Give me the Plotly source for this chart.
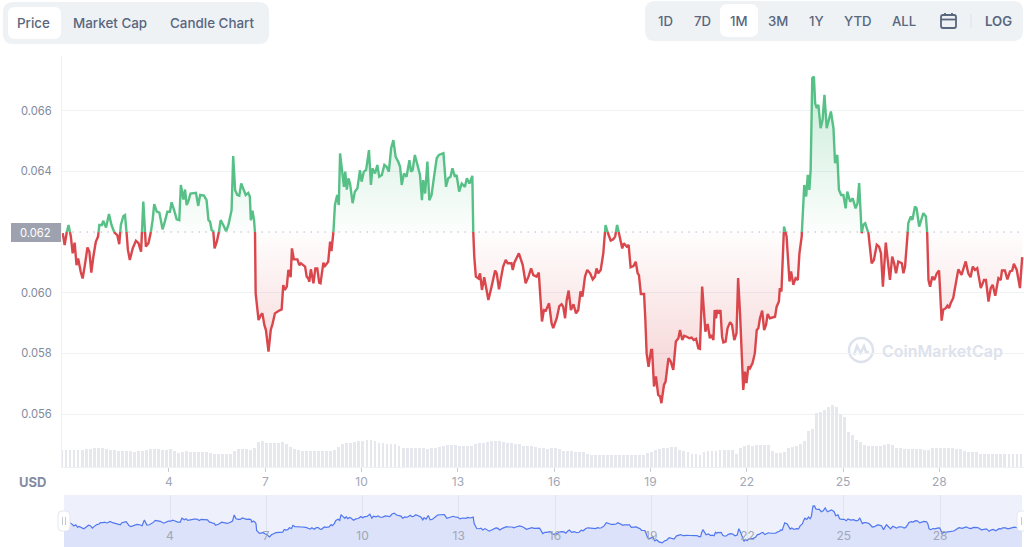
import plotly.graph_objects as go

W, H = 1024, 547
BASE = 62.0  # baseline, thousandths of USD

days = [0.69,0.75,0.81,0.87,0.94,1.00,1.06,1.12,1.17,1.25,1.31,1.38,1.46,1.52,1.58,1.64,1.72,1.79,1.83,1.91,1.95,2.04,2.13,2.21,2.30,2.39,2.45,2.50,2.58,2.63,2.68,2.72,2.78,2.87,2.97,3.05,3.13,3.20,3.28,3.36,3.43,3.49,3.54,3.62,3.70,3.80,3.87,3.95,4.03,4.08,4.16,4.24,4.32,4.37,4.45,4.50,4.55,4.60,4.67,4.76,4.84,4.91,4.97,5.09,5.17,5.23,5.28,5.33,5.38,5.42,5.49,5.54,5.61,5.69,5.78,5.85,5.95,6.00,6.06,6.13,6.19,6.25,6.32,6.39,6.47,6.52,6.55,6.60,6.65,6.68,6.70,6.75,6.79,6.86,6.91,6.97,7.02,7.10,7.17,7.23,7.30,7.41,7.51,7.56,7.61,7.67,7.72,7.79,7.83,7.89,8.00,8.06,8.11,8.24,8.29,8.34,8.37,8.42,8.50,8.56,8.62,8.68,8.72,8.81,8.86,8.96,9.02,9.06,9.12,9.17,9.24,9.29,9.33,9.41,9.45,9.49,9.54,9.59,9.64,
9.72,9.79,9.87,9.95,10.00,10.07,10.14,10.23,10.29,10.34,10.42,10.49,10.55,10.63,10.71,10.78,10.85,10.92,10.99,11.06,11.14,11.20,11.25,11.32,11.40,11.49,11.54,11.59,11.66,11.77,11.82,11.88,11.92,11.98,12.05,12.11,12.18,12.25,12.34,12.41,12.55,12.63,12.70,12.77,12.83,12.91,12.96,13.04,13.12,13.22,13.28,13.36,13.45,13.48,13.51,13.56,13.64,13.69,13.75,13.82,13.95,14.05,14.16,14.21,14.28,14.36,14.41,14.49,14.55,14.67,14.71,14.76,14.83,14.90,15.02,15.11,15.20,15.28,15.35,15.45,15.52,15.62,15.68,15.74,15.84,15.92,15.97,16.08,16.16,16.23,16.28,16.34,16.39,16.45,16.52,16.60,16.68,16.75,16.82,16.88,16.96,17.03,17.12,17.20,17.27,17.32,17.37,17.45,17.53,17.60,17.69,17.76,17.84,17.90,17.96,18.03,18.12,18.17,18.26,18.32,18.38,18.47,18.54,18.60,18.64,18.70,18.80,18.84,18.88,18.94,19.02,19.05,19.11,19.17,19.24,19.30,19.34,19.42,19.47,19.56,19.63,19.71,19.79,19.87,19.92,
19.99,20.05,20.13,20.21,20.28,20.35,20.42,20.49,20.54,20.57,20.61,20.67,20.71,20.78,20.85,20.90,20.96,21.00,21.04,21.08,21.12,21.18,21.23,21.27,21.34,21.40,21.48,21.54,21.61,21.68,21.73,21.79,21.84,21.89,21.94,21.99,22.05,22.10,22.18,22.25,22.31,22.36,22.41,22.48,22.54,22.60,22.65,22.72,22.88,22.93,23.00,23.03,23.08,23.12,23.16,23.24,23.33,23.38,23.45,23.52,23.59,23.64,23.71,23.76,23.79,23.85,23.90,23.95,23.99,24.04,24.09,24.13,24.18,24.23,24.30,24.36,24.42,24.49,24.56,24.62,24.70,24.75,24.82,24.87,24.94,25.01,25.08,25.13,25.22,25.30,25.39,25.45,25.50,25.55,25.58,25.63,25.69,25.79,25.89,25.96,26.05,26.12,26.18,26.24,26.33,26.38,26.46,26.53,26.59,26.65,26.72,26.83,26.88,26.93,27.00,27.03,27.11,27.16,27.24,27.29,27.37,27.43,27.50,27.58,27.62,27.66,27.71,27.78,27.84,27.92,27.99,28.07,28.12,28.20,28.25,28.30,28.35,28.43,28.49,28.59,28.69,28.82,28.90,28.97,29.04,29.11,29.18,29.29,29.39,29.45,29.53,29.60,29.66,29.74,29.84,29.91,29.95,30.04,30.12,30.20,30.27,30.32,30.41,30.51,30.58]

prices_milli = [61.96,61.57,61.96,62.23,61.87,61.30,61.65,60.91,61.13,60.69,60.47,60.91,61.49,61.35,60.66,61.16,61.68,61.85,62.23,62.23,62.37,62.15,62.59,62.23,61.98,61.90,61.60,62.23,62.53,62.56,61.96,61.41,61.08,61.46,61.71,61.63,61.35,63.00,61.52,61.63,61.96,62.39,62.92,62.67,62.64,62.09,62.34,62.67,62.67,62.98,62.72,62.42,62.39,63.55,63.07,63.40,62.89,63.00,63.27,63.27,63.29,62.86,63.22,63.20,63.05,62.39,62.34,62.06,62.03,61.46,61.68,61.90,62.39,62.23,62.03,62.23,62.72,64.50,63.38,63.22,63.20,63.60,63.40,63.22,63.29,63.16,62.39,62.70,62.39,61.96,59.98,59.54,59.10,59.26,59.32,58.94,58.77,58.06,58.77,58.99,59.32,59.40,59.45,60.25,60.09,60.20,60.75,60.51,61.46,61.10,61.10,60.91,60.97,60.86,60.53,60.47,60.36,60.77,60.31,60.80,60.80,60.33,60.31,60.99,60.88,61.02,61.68,61.37,61.96,62.89,63.22,62.89,64.59,63.71,63.49,63.99,63.40,63.77,63.60,
62.95,63.33,63.44,64.04,63.66,63.99,64.04,64.70,63.55,64.10,63.93,64.21,63.82,63.88,64.21,64.15,63.99,64.76,65.03,64.48,64.32,64.15,63.55,63.93,63.82,64.37,63.99,64.04,64.54,64.10,63.88,63.05,63.71,63.27,64.32,63.05,63.22,63.77,64.43,64.54,64.60,63.49,63.77,63.82,64.10,63.82,63.88,63.33,63.60,63.49,63.77,63.60,63.85,61.96,61.19,60.53,60.47,60.64,60.09,60.51,59.76,60.20,60.73,60.64,60.11,60.58,60.86,61.08,60.97,60.97,60.75,60.99,61.13,61.30,60.91,60.31,60.53,60.80,60.58,60.53,60.66,59.05,59.43,59.41,59.65,58.99,58.83,59.16,59.56,59.62,59.54,59.16,59.76,60.07,59.43,59.62,59.32,59.43,60.04,59.87,60.53,60.75,60.64,60.44,60.53,60.80,60.64,60.75,61.30,62.23,61.90,61.72,61.76,61.85,62.23,61.90,61.46,61.63,61.52,61.57,60.84,60.88,61.02,60.64,60.58,59.96,59.96,59.10,58.00,57.56,58.11,58.11,56.91,57.24,56.63,56.58,56.36,56.96,57.07,57.84,57.73,57.46,58.39,58.50,58.77,
58.44,58.58,58.55,58.50,58.52,58.44,58.48,58.17,58.15,59.32,60.20,59.32,58.72,58.97,58.50,58.61,58.44,59.43,59.16,59.43,59.32,59.43,58.55,58.36,58.39,58.83,59.03,58.94,58.44,58.66,60.48,59.32,57.68,56.80,57.40,57.02,57.57,57.51,57.68,58.00,58.77,58.83,59.16,59.41,58.77,58.94,59.30,59.16,59.21,59.54,59.71,60.15,60.04,61.08,62.18,61.85,60.37,60.70,60.26,60.48,60.42,61.30,61.85,63.06,63.55,63.17,63.88,63.39,64.05,67.07,67.12,66.24,66.08,66.19,65.42,65.69,66.52,65.42,65.75,65.97,65.42,64.27,64.54,63.39,63.22,63.22,62.78,63.33,63.00,63.11,62.78,62.95,63.61,62.29,61.96,62.24,62.29,61.96,60.97,61.08,61.58,61.52,61.30,60.20,61.65,61.19,60.42,61.19,60.97,60.64,61.03,60.97,60.64,60.86,61.74,62.29,62.51,62.40,62.84,62.78,62.18,62.40,62.62,62.51,61.96,60.42,60.20,60.53,60.42,60.64,60.73,59.08,59.44,59.49,59.57,59.49,59.65,59.82,60.20,60.77,60.59,61.03,60.64,60.51,60.86,60.75,60.81,60.15,60.42,60.42,59.71,60.15,60.26,59.90,60.48,60.42,60.73,60.73,60.44,60.70,60.73,60.95,60.75,60.15,61.17]

volume = [17.3,17.2,17,17,17.3,17.5,17.8,18.5,19,19,18.8,18,17,16.7,16.2,16,15.7,15.7,15.4,15.7,15.8,17.5,17.8,17.8,17.6,17.5,17.5,17.6,16,14.3,15.3,15.6,15.2,15,14.8,14.8,14.9,14.5,13.2,13,13,13.2,13,16.5,17.7,17.8,17.6,17.5,19,25,26,24.5,24.3,24.3,24.3,24.6,23,20,18.5,17,16,15.6,15.6,15.8,16.2,16,15.6,15.8,17.5,20,23,24,24.5,25,25.8,26.3,26.8,26.8,26,24.5,23.8,23.3,22.8,23,21,19,18.7,18.7,18.7,18.6,18.7,18.5,19,19.5,20,21.5,22,22,21.8,21.5,21.5,21.3,21.5,23.5,23.8,24.3,25.5,26,26,26.3,25,24,24,
23,23,21.5,21,21.5,20,19,19,18.5,18.7,19,18,16.5,16,15.7,15,14.7,15,13,12.3,12.5,12.2,12,12,12.3,12.3,12.5,12.3,12.5,12.5,12.2,12,11.8,14,15.5,17,18,19,19.5,20,20,17,16,15,13.5,13,12.5,15,15.8,16,16.5,17,17.2,17.5,17,13.5,19,21,22,21.5,21.7,22,22,22,16,14.5,14,15,19,20,21,23,26,36,38,54,55,57,60,62,60,53,50,35,32,27,25,22.5,21.5,21,21,21,22,23,22,19.5,19,18.5,18,18,18,17.7,17.5,17,19,19.5,19,19,18.8,18.7,18.5,18.5,16,15.5,15.5,15,13.5,13.5,13,13,13,13,13.2,13,13,12.8,13]
volume_start_day = 0.667

price_ticks = [56, 58, 60, 64, 66]
day_ticks = [4, 7, 10, 13, 16, 19, 22, 25, 28]
chart_tabs = ["Price", "Market Cap", "Candle Chart"]
range_tabs = ["1D", "7D", "1M", "3M", "1Y", "YTD", "ALL"]

GREEN, RED = "#57c086", "#d9474c"
INK, TICK, XTICK = "#58667e", "#808a9d", "#a1a7b6"
GRID, PANEL = "#eff2f5", "#eff2f5"
FONT = "Inter"


def px(x):
    return x / W


def py(y):
    return 1 - y / H


def round_rect(x0, y0, x1, y1, r):
    pts = [
        f"M {px(x0 + r)},{py(y0)}", f"L {px(x1 - r)},{py(y0)}", f"Q {px(x1)},{py(y0)} {px(x1)},{py(y0 + r)}",
        f"L {px(x1)},{py(y1 - r)}", f"Q {px(x1)},{py(y1)} {px(x1 - r)},{py(y1)}",
        f"L {px(x0 + r)},{py(y1)}", f"Q {px(x0)},{py(y1)} {px(x0)},{py(y1 - r)}",
        f"L {px(x0)},{py(y0 + r)}", f"Q {px(x0)},{py(y0)} {px(x0 + r)},{py(y0)}", "Z",
    ]
    return " ".join(pts)


def paper_shape(path, fill="rgba(0,0,0,0)", line=None, width=0, layer="below"):
    return dict(type="path", xref="paper", yref="paper", path=path, fillcolor=fill, layer=layer,
                line=dict(color=line or "rgba(0,0,0,0)", width=width))


def polyline(points):
    return "M " + " L ".join(f"{px(a)},{py(b)}" for a, b in points)


# split the series where it crosses the baseline
xs, ys = [], []
for i, (d, p) in enumerate(zip(days, prices_milli)):
    if i and (ys[-1] - BASE) * (p - BASE) < 0:
        t = (BASE - ys[-1]) / (p - ys[-1])
        xs.append(xs[-1] + t * (d - xs[-1]))
        ys.append(BASE)
    xs.append(d)
    ys.append(p)

up_line = [y if y >= BASE else None for y in ys]
dn_line = [y if y <= BASE else None for y in ys]
up_fill = [max(y, BASE) for y in ys]
dn_fill = [min(y, BASE) for y in ys]
base_line = [BASE] * len(xs)

fig = go.Figure()
vol_x = [volume_start_day + i / 8 for i in range(len(volume))]
fig.add_bar(x=vol_x, y=volume, width=0.09, marker=dict(color="#e6e8ee", line_width=0), yaxis="y2", xaxis="x")

hide = dict(mode="lines", line=dict(width=0), hoverinfo="skip", xaxis="x", yaxis="y")
fig.add_scatter(x=xs, y=base_line, **hide)
fig.add_scatter(x=xs, y=up_fill, fill="tonexty", fillgradient=dict(
    type="vertical", start=BASE, stop=67.1,
    colorscale=[[0, "rgba(87,192,134,0.02)"], [1, "rgba(87,192,134,0.32)"]]), **hide)
fig.add_scatter(x=xs, y=base_line, **hide)
fig.add_scatter(x=xs, y=dn_fill, fill="tonexty", fillgradient=dict(
    type="vertical", start=56.3, stop=BASE,
    colorscale=[[0, "rgba(217,71,76,0.27)"], [1, "rgba(217,71,76,0.01)"]]), **hide)
fig.add_scatter(x=[xs[0] - 1, xs[-1] + 1], y=[BASE, BASE], mode="lines", xaxis="x", yaxis="y",
                line=dict(color="#8f95a5", width=1, dash="1px,6px"))
fig.add_scatter(x=xs, y=up_line, mode="lines", line=dict(color=GREEN, width=2.4), xaxis="x", yaxis="y")
fig.add_scatter(x=xs, y=dn_line, mode="lines", line=dict(color=RED, width=2.4), xaxis="x", yaxis="y")

# navigator
fig.add_scatter(x=days, y=prices_milli, mode="lines", line=dict(color="#5076f0", width=1.2),
                fill="tozeroy", fillcolor="#dbe2f9", xaxis="x2", yaxis="y3")
fig.add_scatter(x=day_ticks, y=[58.06] * len(day_ticks), mode="text", text=[str(d) for d in day_ticks],
                textfont=dict(family=FONT, size=12, color="#a1a7b6"), xaxis="x2", yaxis="y3")

shapes = [
    paper_shape(round_rect(3, 2, 269, 44, 10), PANEL),
    paper_shape(round_rect(8, 7, 61, 39, 7), "#ffffff"),
    paper_shape(round_rect(645, 1, 1023, 41, 10), PANEL),
    paper_shape(round_rect(720, 4, 758, 37, 8), "#ffffff"),
    paper_shape(polyline([(971, 14), (971, 28)]), line="#dde1e8", width=1),
    # calendar icon
    paper_shape(round_rect(941, 15, 956, 28, 2), line=INK, width=1.8),
    paper_shape(polyline([(941, 19.5), (956, 19.5)]), line=INK, width=1.8),
    paper_shape(polyline([(945, 13), (945, 16)]), line=INK, width=1.8),
    paper_shape(polyline([(952, 13), (952, 16)]), line=INK, width=1.8),
    # price-tag behind 0.062
    paper_shape(round_rect(11, 223, 62, 242, 0.5), "#9ea2af"),
    # navigator background and handles
    paper_shape(round_rect(64, 495, 1022, 547, 0.5), "#eef1fc"),
    paper_shape(round_rect(58, 511, 70, 531, 4), "#ffffff", line="#e4e7ee", width=1, layer="above"),
    paper_shape(round_rect(1017, 511, 1029, 531, 4), "#ffffff", line="#e4e7ee", width=1, layer="above"),
    paper_shape(polyline([(62.5, 517), (62.5, 525)]), line="#c4c9d4", width=1, layer="above"),
    paper_shape(polyline([(65.5, 517), (65.5, 525)]), line="#c4c9d4", width=1, layer="above"),
    paper_shape(polyline([(1021.5, 517), (1021.5, 525)]), line="#c4c9d4", width=1, layer="above"),
    # watermark logo
    dict(type="circle", xref="paper", yref="paper", x0=px(849), x1=px(873), y0=py(362), y1=py(338),
         line=dict(color="#dde2ec", width=2.5), layer="below"),
    paper_shape(polyline([(854, 355), (857, 346), (860.5, 353), (864, 346), (866, 352), (869, 352)]),
                line="#dde2ec", width=2.5),
]


def note(text, x, y, size=13, color=INK, weight=500, xanchor="center"):
    return dict(text=text, xref="paper", yref="paper", x=px(x), y=py(y), xanchor=xanchor, yanchor="middle",
                showarrow=False, font=dict(family=FONT, size=size, color=color, weight=weight))


annotations = [note(t, x, 22.5, 13.4) for t, x in zip(chart_tabs, [33, 110, 212])]
annotations += [note(t, x, 21, 13.2) for t, x in zip(range_tabs, [665, 702, 739, 778, 816, 858, 904])]
annotations += [
    note("LOG", 998, 20.5, 13.2, weight=600),
    note("0.062", 53, 233, 11.2, "#ffffff", 400, "right"),
    note("USD", 17, 482, 13, "#858ca2", 700, "left"),
    note("CoinMarketCap", 880, 350.5, 16, "#dde2ec", 600, "left"),
]

fig.update_layout(
    width=W, height=H, autosize=False, margin=dict(l=0, r=0, t=0, b=0),
    paper_bgcolor="#ffffff", plot_bgcolor="rgba(0,0,0,0)", showlegend=False, bargap=0,
    font=dict(family=FONT), shapes=shapes, annotations=annotations,
    xaxis=dict(domain=[px(62), 1], range=[0.667, 30.636], tickmode="array", tickvals=day_ticks,
               ticks="outside", ticklen=4, tickcolor="#c8ccd6", showgrid=False, zeroline=False,
               showline=True, linecolor=GRID, linewidth=1, anchor="y",
               tickfont=dict(family=FONT, size=12, color=XTICK)),
    yaxis=dict(domain=[py(467), py(56)], range=[54.257, 67.8], tickmode="array", tickvals=price_ticks,
               ticktext=[f"{v / 1000:.3f}" for v in price_ticks], ticks="outside", ticklen=7,
               tickcolor="rgba(0,0,0,0)", showgrid=True, gridcolor=GRID, gridwidth=1, zeroline=False,
               showline=True, linecolor=GRID, linewidth=1, anchor="x",
               tickfont=dict(family=FONT, size=11.2, color=TICK)),
    yaxis2=dict(domain=[py(467), py(56)], range=[0, 411], overlaying="y", visible=False, anchor="x"),
    xaxis2=dict(domain=[px(64), px(1022)], range=[0.696, 30.556], tickmode="array", tickvals=day_ticks,
                showticklabels=False, ticks="", showgrid=True, gridcolor="#dfe3f2", gridwidth=1,
                zeroline=False, anchor="y3", layer="below traces"),
    yaxis3=dict(domain=[0, py(495)], range=[55.15, 70.3], visible=False, anchor="x2"),
)

fig.write_html("out.html", post_script="document.body.style.margin='0';document.body.style.overflow='hidden';",
               config=dict(displayModeBar=False))
